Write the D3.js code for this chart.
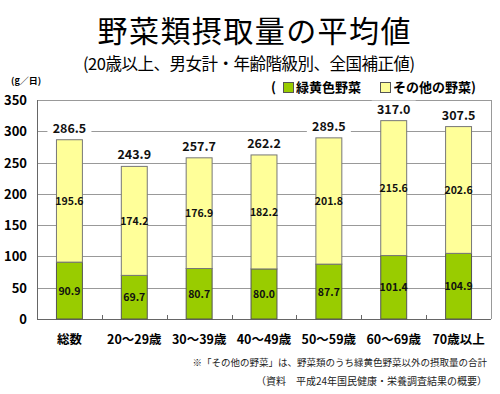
<!DOCTYPE html>
<html>
<head>
<meta charset="utf-8">
<script src="https://cdn.jsdelivr.net/npm/d3@7"></script>
<style>
  body { margin: 0; background: #fff; }
  svg { display: block; }
  text { font-family: "Noto Sans CJK JP", "Liberation Sans", sans-serif; }
</style>
</head>
<body>
<div id="chart"></div>
<script>
// 野菜類摂取量の平均値 (平成24年国民健康・栄養調査)
const categories = ["総数", "20～29歳", "30～39歳", "40～49歳", "50～59歳", "60～69歳", "70歳以上"];
const greenVeg = [90.9, 69.7, 80.7, 80.0, 87.7, 101.4, 104.9];
const otherVeg = [195.6, 174.2, 176.9, 182.2, 201.8, 215.6, 202.6];
const totals = [286.5, 243.9, 257.7, 262.2, 289.5, 317.0, 307.5];
const yTicks = [0, 50, 100, 150, 200, 250, 300, 350];

const W = 500, H = 394;
const margin = { top: 100, right: 9, bottom: 75, left: 37 };
const width = W - margin.left - margin.right,
    height = H - margin.top - margin.bottom;

const svg = d3.select("#chart").append("svg")
    .attr("width", W)
    .attr("height", H);

// title
svg.append("text")
    .attr("x", 254).attr("y", 42)
    .attr("text-anchor", "middle")
    .attr("font-size", 30)
    .attr("textLength", 313)
    .text("野菜類摂取量の平均値");

svg.append("text")
    .attr("x", 249).attr("y", 70)
    .attr("text-anchor", "middle")
    .attr("font-size", 16.5)
    .attr("textLength", 332)
    .text("(20歳以上、男女計・年齢階級別、全国補正値)");

svg.append("text")
    .attr("x", 11).attr("y", 84)
    .attr("font-size", 9)
    .attr("font-weight", "bold")
    .text("(g／日)");

// legend
const legend = svg.append("g").attr("font-size", 13).attr("font-weight", "bold");
legend.append("text").attr("x", 271).attr("y", 92).text("(");
legend.append("rect").attr("x", 283.5).attr("y", 82.5).attr("width", 10).attr("height", 10)
    .attr("fill", "#99cc00").attr("stroke", "#555");
legend.append("text").attr("x", 296).attr("y", 92).text("緑黄色野菜");
legend.append("rect").attr("x", 380.5).attr("y", 82.5).attr("width", 10).attr("height", 10)
    .attr("fill", "#ffff99").attr("stroke", "#555");
legend.append("text").attr("x", 393).attr("y", 92).text("その他の野菜)");

const g = svg.append("g")
    .attr("transform", `translate(${margin.left},${margin.top})`);

const x = d3.scaleBand()
    .domain(categories)
    .range([0, width])
    .paddingInner(0.6)
    .paddingOuter(0.3);

const y = d3.scaleLinear()
    .domain([0, 350])
    .range([height, 0]);

// gridlines
g.append("g")
    .selectAll("line")
    .data(yTicks)
    .join("line")
    .attr("x1", 0).attr("x2", width)
    .attr("y1", d => Math.round(y(d)) + 0.5)
    .attr("y2", d => Math.round(y(d)) + 0.5)
    .attr("stroke", d => d === 0 ? "#666" : "#999");

// right border
g.append("line")
    .attr("x1", width + 0.5).attr("x2", width + 0.5)
    .attr("y1", y(350)).attr("y2", y(0))
    .attr("stroke", "#999");

// left axis
g.append("line")
    .attr("x1", 0.5).attr("x2", 0.5)
    .attr("y1", y(350)).attr("y2", y(0))
    .attr("stroke", "#666");

// y tick labels
g.append("g")
    .selectAll("text")
    .data(yTicks)
    .join("text")
    .attr("x", -10)
    .attr("y", d => y(d) + 5)
    .attr("text-anchor", "end")
    .attr("font-family", "Liberation Sans, Arial, sans-serif")
    .attr("font-weight", "bold")
    .attr("font-size", 13)
    .text(d => d);

// small ticks between categories
const step = x.step();
g.append("g")
    .selectAll("line")
    .data(d3.range(1, categories.length))
    .join("line")
    .attr("x1", i => Math.round(i * step) + 0.5)
    .attr("x2", i => Math.round(i * step) + 0.5)
    .attr("y1", y(0)).attr("y2", y(0) - 4)
    .attr("stroke", "#666");

// bars
const bars = g.append("g")
    .selectAll("g")
    .data(categories)
    .join("g");

bars.append("rect")
    .attr("x", d => x(d))
    .attr("width", x.bandwidth())
    .attr("y", (d, i) => y(greenVeg[i]))
    .attr("height", (d, i) => y(0) - y(greenVeg[i]))
    .attr("fill", "#99cc00")
    .attr("stroke", "#555");

bars.append("rect")
    .attr("x", d => x(d))
    .attr("width", x.bandwidth())
    .attr("y", (d, i) => y(greenVeg[i] + otherVeg[i]))
    .attr("height", (d, i) => y(greenVeg[i]) - y(greenVeg[i] + otherVeg[i]))
    .attr("fill", "#ffff99")
    .attr("stroke", "#777");

// labels inside bars
bars.append("text")
    .attr("x", d => x(d) + x.bandwidth() / 2)
    .attr("y", (d, i) => y(greenVeg[i] / 2) + 4)
    .attr("text-anchor", "middle")
    .attr("font-family", "Liberation Sans, Arial, sans-serif")
    .attr("font-weight", "bold")
    .attr("font-size", 10.5)
    .attr("fill", "#111")
    .text((d, i) => greenVeg[i].toFixed(1));

bars.append("text")
    .attr("x", d => x(d) + x.bandwidth() / 2)
    .attr("y", (d, i) => y(greenVeg[i] + otherVeg[i] / 2) + 4)
    .attr("text-anchor", "middle")
    .attr("font-family", "Liberation Sans, Arial, sans-serif")
    .attr("font-weight", "bold")
    .attr("font-size", 10.5)
    .attr("fill", "#111")
    .text((d, i) => otherVeg[i].toFixed(1));

// total labels with white background
bars.append("rect")
    .attr("x", d => x(d) + x.bandwidth() / 2 - 22)
    .attr("y", (d, i) => y(totals[i]) - 20)
    .attr("width", 44)
    .attr("height", 15)
    .attr("fill", "#fff");

bars.append("text")
    .attr("x", d => x(d) + x.bandwidth() / 2)
    .attr("y", (d, i) => y(totals[i]) - 7)
    .attr("text-anchor", "middle")
    .attr("font-family", "Liberation Sans, Arial, sans-serif")
    .attr("font-weight", "bold")
    .attr("font-size", 12.5)
    .attr("fill", "#111")
    .text((d, i) => totals[i].toFixed(1));

// category labels
g.append("g")
    .selectAll("text")
    .data(categories)
    .join("text")
    .attr("x", d => x(d) + x.bandwidth() / 2)
    .attr("y", height + 25)
    .attr("text-anchor", "middle")
    .attr("font-weight", "bold")
    .attr("font-size", 12.5)
    .text(d => d);

// footnotes
svg.append("text")
    .attr("x", 487).attr("y", 366)
    .attr("text-anchor", "end")
    .attr("font-size", 9.5)
    .attr("fill", "#222")
    .text("※「その他の野菜」は、野菜類のうち緑黄色野菜以外の摂取量の合計");

svg.append("text")
    .attr("x", 487).attr("y", 385)
    .attr("text-anchor", "end")
    .attr("font-size", 10)
    .attr("fill", "#222")
    .text("（資料　平成24年国民健康・栄養調査結果の概要）");
</script>
</body>
</html>
